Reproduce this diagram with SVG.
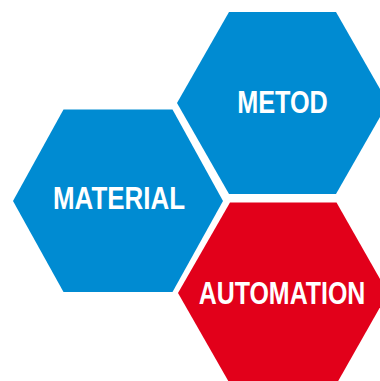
<svg xmlns="http://www.w3.org/2000/svg" width="380" height="381" viewBox="0 0 380 381">
<style>
.blue{fill:#008BD2}
.red{fill:#E2001A}
text{font-family:"Liberation Sans",Arial,sans-serif;font-weight:bold;font-size:31px;fill:#fff;text-anchor:middle}
</style>
<rect width="380" height="381" fill="#fff"/>
<g id="material">
<polygon class="blue" points="13,201 63.5,109.5 172.5,109.5 223,201 172.5,292 63.5,292"/>
<text transform="translate(119,209.3) scale(0.837,1)" x="0" y="0">MATERIAL</text>
</g>
<g id="metod">
<polygon class="blue" points="177,103 229,12 336,12 388,103 336,194 229,194"/>
<text transform="translate(282.5,113) scale(0.813,1)" x="0" y="0">METOD</text>
</g>
<g id="automation">
<polygon class="red" points="178,293 230,202.5 336.5,202.5 388,293 336.5,384 230,384"/>
<text transform="translate(282,303.5) scale(0.805,1)" x="0" y="0">AUTOMATION</text>
</g>
<g id="connectors"/>
</svg>
